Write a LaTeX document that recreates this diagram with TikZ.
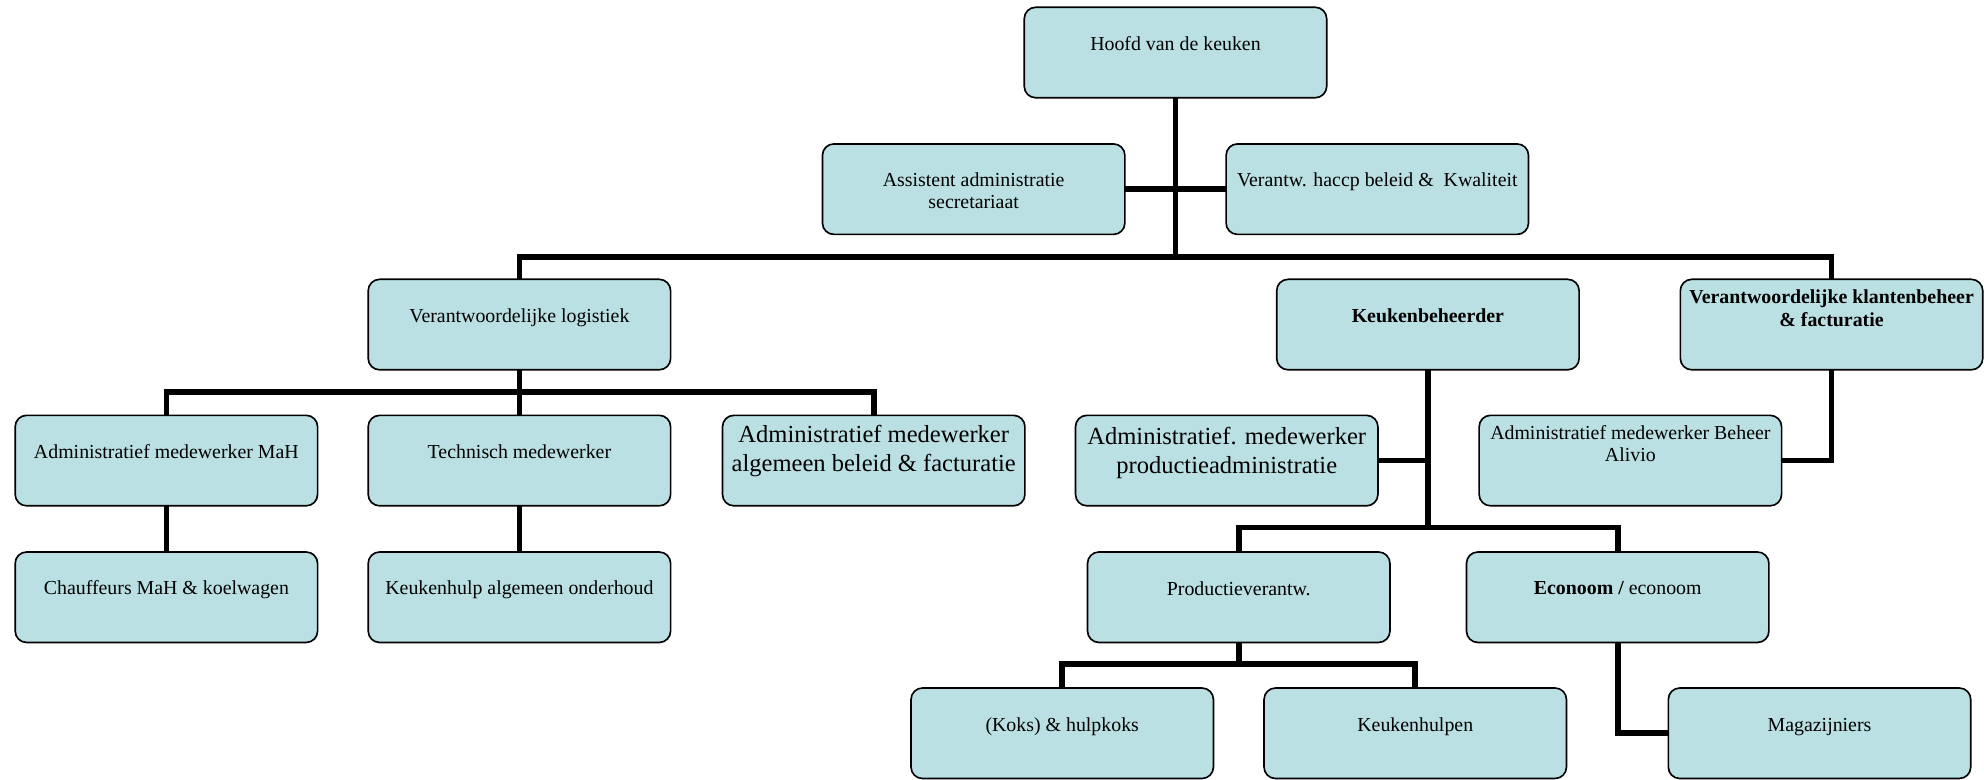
\documentclass[tikz,border=0pt]{standalone}
\usepackage{fontspec}
\setmainfont{Liberation Serif}
\usetikzlibrary{backgrounds}
\definecolor{boxfill}{HTML}{BBE0E3}
\begin{document}
\begin{tikzpicture}[x=1pt,y=-1pt,
  box/.style={draw=black, line width=1.3pt, fill=boxfill, rounded corners=9pt,
              minimum width=239pt, minimum height=71.5pt, inner sep=0pt},
  txt/.style={font=\fontsize{15.7}{18}\selectfont, align=center, inner sep=0pt, anchor=base},
  big/.style={font=\fontsize{19.4}{23}\selectfont, align=center, inner sep=0pt, anchor=base},
  conn/.style={line width=4.5pt, line join=miter, line cap=rect}]
\useasboundingbox (0,0) rectangle (1568,616);
% boxes
\node[box] (hoofd)   at (929,41.5) {};
\node[box] (assist)  at (769.5,149.5) {};
\node[box] (haccp)   at (1088.5,149.5) {};
\node[box] (logist)  at (410.5,256.5) {};
\node[box] (keuken)  at (1128.5,256.5) {};
\node[box] (klant)   at (1447.5,256.5) {};
\node[box] (mah)     at (131.5,364) {};
\node[box] (techn)   at (410.5,364) {};
\node[box] (alg)     at (690.5,364) {};
\node[box] (padm)    at (969.5,364) {};
\node[box] (alivio)  at (1288.5,364) {};
\node[box] (chauf)   at (131.5,472) {};
\node[box] (khulp)   at (410.5,472) {};
\node[box] (prod)    at (979,472) {};
\node[box] (econ)    at (1278.5,472) {};
\node[box] (koks)    at (839.5,579.5) {};
\node[box] (khulpen) at (1118.5,579.5) {};
\node[box] (magaz)   at (1438,579.5) {};
% texts (base = baseline of the last line)
\node[txt] (hoofd-t)   at (929,40) {Hoofd van de keuken};
\node[txt] (assist-t)  at (769.5,165) {Assistent administratie\\secretariaat};
\node[txt] (haccp-t)   at (1088.5,147) {Verantw. haccp beleid \&\ \ Kwaliteit};
\node[txt] (logist-t)  at (410.5,255) {Verantwoordelijke logistiek};
\node[txt] (keuken-t)  at (1128.5,255) {\bfseries Keukenbeheerder};
\node[txt] (klant-t)   at (1447.5,258) {\bfseries Verantwoordelijke klantenbeheer\\\bfseries \& facturatie};
\node[txt] (mah-t)     at (131.5,362) {Administratief medewerker MaH};
\node[txt] (techn-t)   at (410.5,362) {Technisch medewerker};
\node[big] (alg-t)     at (690.5,373) {Administratief medewerker\\algemeen beleid \& facturatie};
\node[big] (padm-t)    at (969.5,374) {Administratief. medewerker\\productieadministratie};
\node[txt] (alivio-t)  at (1288.5,365) {Administratief medewerker Beheer\\Alivio};
\node[txt] (chauf-t)   at (131.5,470) {Chauffeurs MaH \& koelwagen};
\node[txt] (khulp-t)   at (410.5,470) {Keukenhulp algemeen onderhoud};
\node[txt] (prod-t)    at (979,471) {Productieverantw.};
\node[txt] (econ-t)    at (1278.5,470) {{\bfseries Econoom /} econoom};
\node[txt] (koks-t)    at (839.5,578) {(Koks) \& hulpkoks};
\node[txt] (khulpen-t) at (1118.5,578) {Keukenhulpen};
\node[txt] (magaz-t)   at (1438,578) {Magazijniers};
% bus levels
\coordinate (b1) at (0,203);
\coordinate (b2) at (0,310);
\coordinate (b3) at (0,417);
\coordinate (b4) at (0,525);
\begin{scope}[on background layer]
\draw[conn] (hoofd) -- (hoofd |- b1);
\draw[conn] (assist) -- (haccp);
\draw[conn] (logist) -- (logist |- b1) -- (klant |- b1) -- (klant);
\draw[conn] (keuken) -- (keuken |- b3);
\draw[conn] (logist) -- (logist |- b2);
\draw[conn] (mah) -- (mah |- b2) -- (alg |- b2) -- (alg);
\draw[conn] (techn) -- (techn |- b2);
\draw[conn] (mah) -- (chauf);
\draw[conn] (techn) -- (khulp);
\draw[conn] (padm) -- (padm -| keuken);
\draw[conn] (prod) -- (prod |- b3) -- (econ |- b3) -- (econ);
\draw[conn] (klant) |- (alivio);
\draw[conn] (prod) -- (prod |- b4);
\draw[conn] (koks) -- (koks |- b4) -- (khulpen |- b4) -- (khulpen);
\draw[conn] (econ) |- (magaz);
\end{scope}
\end{tikzpicture}
\end{document}
